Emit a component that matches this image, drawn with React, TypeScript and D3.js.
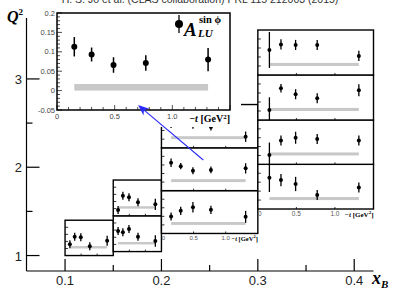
import React, { useEffect, useRef } from 'react';
import * as d3 from 'd3';

const title = 'H. S. Jo et al. (CLAS collaboration) PRL 115 212003 (2015)';

// -t bin centres [GeV^2], shared by every panel
const tValues = [0.15, 0.3, 0.49, 0.77, 1.31];

// x_B edges of the four columns of panels
const colXB = [
    [0.1, 0.15],
    [0.15, 0.2],
    [0.2, 0.3],
    [0.3, 0.42],
];

// Q^2 edges of the panels in each column, bottom to top
const colQ2 = [
    [1.0, 1.4],
    [1.045, 1.45, 1.855],
    [1.25, 1.735, 2.22, 2.71],
    [1.527, 2.033, 2.535, 3.045, 3.554],
];

// A_LU^{sin phi} in each panel, bottom to top
const asymCol1 = [[0.03, 0.083, 0.079, 0.016, 0.055]];
const asymCol2 = [
    [0.094, 0.085, 0.108, 0.054, 0.024],
    [-0.01, 0.09, 0.079, 0.044, 0.03],
];
const asymCol3 = [
    [0.049, 0.082, 0.103, 0.088, 0.047],
    [0.113, 0.093, 0.066, 0.071, 0.08],
    [0.09, 0.1, 0.08, 0.07, 0.014],
];
const asymCol4 = [
    [0.125, 0.112, 0.09, 0.028, 0.071],
    [0.003, 0.084, 0.1, 0.093, 0.084],
    [0.006, 0.126, 0.093, 0.071, 0.115],
    [0.089, 0.12, 0.117, 0.117, 0.056],
];

// statistical errors, same layout
const errCol1 = [[0.028, 0.028, 0.028, 0.028, 0.035]];
const errCol2 = [
    [0.028, 0.028, 0.028, 0.028, 0.04],
    [0.028, 0.028, 0.028, 0.028, 0.04],
];
const errCol3 = [
    [0.024, 0.024, 0.03, 0.024, 0.035],
    [0.025, 0.018, 0.02, 0.02, 0.03],
    [0.025, 0.02, 0.02, 0.02, 0.03],
];
const errCol4 = [
    [0.08, 0.034, 0.04, 0.028, 0.028],
    [0.07, 0.028, 0.034, 0.028, 0.028],
    [0.07, 0.024, 0.028, 0.028, 0.033],
    [0.1, 0.028, 0.028, 0.028, 0.028],
];

// systematic band height
const sysBand = 0.017;

const xTicksMajor = [0.1, 0.2, 0.3, 0.4];
const xTicksMinor = [0.15, 0.25, 0.35];
const yTicksMajor = [1, 2, 3];
const yTicksMinor = [1.5, 2.5];
const insetYTicks = ['0.2', '0.15', '0.1', '0.05', '0', '-0.05'];
const insetXTicks = ['0', '0.5', '1.0'];

const sans = 'Liberation Sans, Arial, sans-serif';
const serif = 'Liberation Serif, DejaVu Serif, serif';

const App = () => {
    const chartRef = useRef<SVGSVGElement>(null);

    useEffect(() => {
        drawChart();
    }, []);

    const drawChart = () => {
        const svg = d3.select(chartRef.current);
        svg.selectAll('*').remove();

        const x = d3.scaleLinear().domain([0.06, 0.42]).range([26.5, 373.5]);
        const y = d3.scaleLinear().domain([0.825, 3.69]).range([271, 18]);

        const asym = [asymCol1, asymCol2, asymCol3, asymCol4];
        const errs = [errCol1, errCol2, errCol3, errCol4];

        const drawPoints = (g, px, py, vals, es, r, sw) => {
            const lo = py.domain()[0];
            const hi = py.domain()[1];
            vals.forEach((v, i) => {
                g.append('line')
                    .attr('x1', px(tValues[i]))
                    .attr('x2', px(tValues[i]))
                    .attr('y1', py(Math.max(lo, v - es[i])))
                    .attr('y2', py(Math.min(hi, v + es[i])))
                    .attr('stroke', '#000')
                    .attr('stroke-width', sw);
                g.append('circle')
                    .attr('cx', px(tValues[i]))
                    .attr('cy', py(v))
                    .attr('r', r)
                    .attr('fill', '#000');
            });
        };

        const drawBand = (g, px, py) => {
            g.append('rect')
                .attr('x', px(tValues[0]))
                .attr('width', px(tValues[4]) - px(tValues[0]))
                .attr('y', py(sysBand))
                .attr('height', py(0) - py(sysBand))
                .attr('fill', '#c8c8c8');
        };

        // small panels
        colXB.forEach((xb, c) => {
            const q = colQ2[c];
            for (let k = 0; k < q.length - 1; k++) {
                const x0 = x(xb[0]);
                const x1 = x(xb[1]);
                const yTop = y(q[k + 1]);
                const yBot = y(q[k]);
                const px = d3.scaleLinear().domain([0, 1.5]).range([x0, x1]);
                const py = d3.scaleLinear().domain([-0.05, 0.2]).range([yBot, yTop]);
                const g = svg.append('g');

                g.append('rect')
                    .attr('x', x0).attr('y', yTop)
                    .attr('width', x1 - x0).attr('height', yBot - yTop)
                    .attr('fill', '#fff');

                drawBand(g, px, py);

                [0, 0.05, 0.1, 0.15].forEach(v => {
                    g.append('line')
                        .attr('x1', x0).attr('x2', x0 + 3)
                        .attr('y1', py(v)).attr('y2', py(v))
                        .attr('stroke', '#000').attr('stroke-width', 0.8);
                });
                [0.5, 1.0].forEach(t => {
                    g.append('line')
                        .attr('x1', px(t)).attr('x2', px(t))
                        .attr('y1', yBot).attr('y2', yBot - 2)
                        .attr('stroke', '#000').attr('stroke-width', 0.8);
                });

                drawPoints(g, px, py, asym[c][k], errs[c][k], 2, 1.3);

                g.append('rect')
                    .attr('x', x0).attr('y', yTop)
                    .attr('width', x1 - x0).attr('height', yBot - yTop)
                    .attr('fill', 'none')
                    .attr('stroke', '#000')
                    .attr('stroke-width', 1.4);

                // tick labels under the lowest panel of the wide columns
                if (k === 0 && c >= 2) {
                    const fs = c === 3 ? 6.5 : 6;
                    insetXTicks.forEach((lab, i) => {
                        const tv = +lab;
                        g.append('text')
                            .attr('x', i === 0 ? x0 + 2 : px(tv))
                            .attr('y', yBot + 7)
                            .attr('text-anchor', 'middle')
                            .attr('font-family', sans)
                            .attr('font-size', fs)
                            .attr('fill', '#555')
                            .text(lab);
                    });
                    const lab = g.append('text')
                        .attr('x', x1)
                        .attr('y', yBot + 7.5)
                        .attr('text-anchor', 'end')
                        .attr('font-family', serif)
                        .attr('font-weight', 'bold')
                        .attr('font-size', fs + 0.5);
                    lab.append('tspan').text('\u2212');
                    lab.append('tspan').attr('font-style', 'italic').text('t');
                    lab.append('tspan').text(' [GeV');
                    lab.append('tspan').attr('font-size', fs - 1.5).attr('dy', -2.5).text('2');
                    lab.append('tspan').attr('dy', 2.5).text(']');
                }
            }
        });

        // main axes
        const axis = svg.append('g').attr('stroke', '#000').attr('stroke-width', 1.2);
        axis.append('line').attr('x1', x.range()[0]).attr('x2', x.range()[1])
            .attr('y1', y.range()[0]).attr('y2', y.range()[0]);
        axis.append('line').attr('x1', x.range()[0]).attr('x2', x.range()[0])
            .attr('y1', y.range()[0]).attr('y2', y.range()[1]);
        xTicksMajor.forEach(v => {
            axis.append('line').attr('x1', x(v)).attr('x2', x(v))
                .attr('y1', y.range()[0]).attr('y2', y.range()[0] - 12);
        });
        xTicksMinor.forEach(v => {
            axis.append('line').attr('x1', x(v)).attr('x2', x(v))
                .attr('y1', y.range()[0]).attr('y2', y.range()[0] - 6);
        });
        yTicksMajor.forEach(v => {
            axis.append('line').attr('x1', x.range()[0]).attr('x2', x.range()[0] + 13)
                .attr('y1', y(v)).attr('y2', y(v));
        });
        yTicksMinor.forEach(v => {
            axis.append('line').attr('x1', x.range()[0]).attr('x2', x.range()[0] + 6)
                .attr('y1', y(v)).attr('y2', y(v));
        });

        svg.append('g')
            .selectAll('text')
            .data(xTicksMajor)
            .enter()
            .append('text')
            .attr('x', d => x(d))
            .attr('y', 285)
            .attr('text-anchor', 'middle')
            .attr('font-family', sans)
            .attr('font-size', 13)
            .attr('fill', '#222')
            .text(d => d.toFixed(1));

        svg.append('g')
            .selectAll('text')
            .data(yTicksMajor)
            .enter()
            .append('text')
            .attr('x', 22)
            .attr('y', d => y(d) + 5)
            .attr('text-anchor', 'end')
            .attr('font-family', sans)
            .attr('font-size', 13)
            .attr('fill', '#222')
            .text(d => d);

        // axis titles
        const qLab = svg.append('text')
            .attr('x', 7).attr('y', 22)
            .attr('font-family', serif)
            .attr('font-weight', 'bold')
            .attr('font-style', 'italic')
            .attr('font-size', 16);
        qLab.append('tspan').text('Q');
        qLab.append('tspan').attr('font-size', 9).attr('dy', -7).attr('font-style', 'normal').text('2');

        const xLab = svg.append('text')
            .attr('x', 372).attr('y', 284)
            .attr('font-family', serif)
            .attr('font-weight', 'bold')
            .attr('font-style', 'italic')
            .attr('font-size', 18);
        xLab.append('tspan').text('x');
        xLab.append('tspan').attr('font-size', 11).attr('dy', 4).text('B');

        // inset: zoom of the middle panel at 0.2 < x_B < 0.3
        const ix = d3.scaleLinear().domain([0, 1.5]).range([57, 230]);
        const iy = d3.scaleLinear().domain([-0.05, 0.2]).range([110, 13]);
        const ins = svg.append('g');
        ins.append('rect')
            .attr('x', 41).attr('y', 0).attr('width', 200).attr('height', 127)
            .attr('fill', '#fff');
        drawBand(ins, ix, iy);

        d3.range(-0.05, 0.2001, 0.01).forEach((v, i) => {
            const major = i % 5 === 0;
            ins.append('line')
                .attr('x1', ix(0)).attr('x2', ix(0) + (major ? 5 : 3))
                .attr('y1', iy(v)).attr('y2', iy(v))
                .attr('stroke', '#000').attr('stroke-width', 0.7);
        });
        d3.range(0, 1.5001, 0.1).forEach((t, i) => {
            const major = i % 5 === 0;
            ins.append('line')
                .attr('x1', ix(t)).attr('x2', ix(t))
                .attr('y1', iy(-0.05)).attr('y2', iy(-0.05) - (major ? 5 : 3))
                .attr('stroke', '#000').attr('stroke-width', 0.7);
        });

        drawPoints(ins, ix, iy, asymCol3[1], errCol3[1], 3, 1.5);

        ins.append('rect')
            .attr('x', ix(0)).attr('y', iy(0.2))
            .attr('width', ix(1.5) - ix(0)).attr('height', iy(-0.05) - iy(0.2))
            .attr('fill', 'none').attr('stroke', '#000').attr('stroke-width', 1.5);

        ins.selectAll('text.yl')
            .data(insetYTicks)
            .enter()
            .append('text')
            .attr('x', 55)
            .attr('y', d => iy(+d) + 2.5)
            .attr('text-anchor', 'end')
            .attr('font-family', sans)
            .attr('font-size', 7.5)
            .attr('fill', '#444')
            .text(d => d);

        ins.selectAll('text.xl')
            .data(insetXTicks)
            .enter()
            .append('text')
            .attr('x', d => ix(+d))
            .attr('y', 119)
            .attr('text-anchor', 'middle')
            .attr('font-family', sans)
            .attr('font-size', 7.5)
            .attr('fill', '#444')
            .text(d => d);

        const tLab = ins.append('text')
            .attr('x', 230).attr('y', 122)
            .attr('text-anchor', 'end')
            .attr('font-family', serif)
            .attr('font-weight', 'bold')
            .attr('font-size', 10);
        tLab.append('tspan').text('\u2212');
        tLab.append('tspan').attr('font-style', 'italic').text('t');
        tLab.append('tspan').text(' [GeV');
        tLab.append('tspan').attr('font-size', 7).attr('dy', -3.5).text('2');
        tLab.append('tspan').attr('dy', 3.5).text(']');

        // legend
        ins.append('line')
            .attr('x1', 179).attr('x2', 179).attr('y1', 15).attr('y2', 33)
            .attr('stroke', '#000').attr('stroke-width', 1.3);
        ins.append('circle').attr('cx', 179).attr('cy', 24).attr('r', 4).attr('fill', '#000');
        ins.append('text')
            .attr('x', 184).attr('y', 36)
            .attr('font-family', serif)
            .attr('font-weight', 'bold')
            .attr('font-style', 'italic')
            .attr('font-size', 19)
            .text('A');
        ins.append('text')
            .attr('x', 199).attr('y', 23)
            .attr('font-family', serif)
            .attr('font-weight', 'bold')
            .attr('font-size', 10.5)
            .text('sin \u03D5');
        ins.append('text')
            .attr('x', 198).attr('y', 37)
            .attr('font-family', serif)
            .attr('font-weight', 'bold')
            .attr('font-style', 'italic')
            .attr('font-size', 11)
            .text('LU');

        // blue arrow from the panel to its zoom
        const tail = [x(0.2434), y(2.082)];
        const head = [x(0.1757), y(2.705)];
        const dx = head[0] - tail[0];
        const dy = head[1] - tail[1];
        const len = Math.hypot(dx, dy);
        const ux = dx / len;
        const uy = dy / len;
        svg.append('line')
            .attr('x1', tail[0]).attr('y1', tail[1])
            .attr('x2', head[0] - ux * 6).attr('y2', head[1] - uy * 6)
            .attr('stroke', '#2a2aff').attr('stroke-width', 1.1);
        const L = 11;
        const Wd = 4.5;
        const bx = head[0] - ux * L;
        const by = head[1] - uy * L;
        const nx = head[0] - ux * L * 0.7;
        const ny = head[1] - uy * L * 0.7;
        svg.append('path')
            .attr('d', `M${head[0]},${head[1]}L${bx - uy * Wd},${by + ux * Wd}L${nx},${ny}L${bx + uy * Wd},${by - ux * Wd}Z`)
            .attr('fill', '#2a2aff');

        // title, clipped at the top edge
        svg.append('text')
            .attr('x', 200).attr('y', 3)
            .attr('text-anchor', 'middle')
            .attr('font-family', sans)
            .attr('font-size', 10.5)
            .attr('fill', '#333')
            .text(title);
    };

    return (
        <svg
            ref={chartRef}
            width="394"
            height="290"
            style={{ position: 'absolute', left: 0, top: 0, background: '#fff' }}
        />
    );
};

export default App;
